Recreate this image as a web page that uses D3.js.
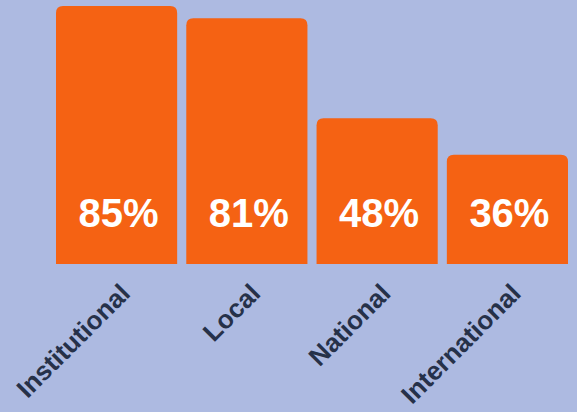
<!DOCTYPE html>
<html>
<head>
<meta charset="utf-8">
<script src="https://cdn.jsdelivr.net/npm/d3@7"></script>
<style>
  html, body { margin: 0; padding: 0; background: #adbae1; }
  svg { display: block; }
</style>
</head>
<body>
<svg id="chart" width="577" height="412"></svg>
<script>
const categories = ["Institutional", "Local", "National", "International"];
const values = [85, 81, 48, 36];
const valueLabels = ["85%", "81%", "48%", "36%"];

const W = 577, H = 412;
const svg = d3.select("#chart");
svg.append("rect").attr("width", W).attr("height", H).attr("fill", "#adbae1");

const x = d3.scaleBand().domain(categories).range([56, 568]).paddingInner(0.07).paddingOuter(0);
const y = d3.scaleLinear().domain([0, d3.max(values)]).range([264, 6]);

const r = 7;
function barPath(x0, y0, w, y1) {
  const rr = Math.min(r, w / 2, (y1 - y0));
  return `M${x0},${y1}V${y0 + rr}Q${x0},${y0} ${x0 + rr},${y0}H${x0 + w - rr}Q${x0 + w},${y0} ${x0 + w},${y0 + rr}V${y1}Z`;
}

const data = categories.map((c, i) => ({ c, v: values[i], label: valueLabels[i] }));

svg.append("g").selectAll("path").data(data).join("path")
  .attr("d", d => barPath(x(d.c), y(d.v), x.bandwidth(), y(0)))
  .attr("fill", "#f56213");

svg.append("g").selectAll("text").data(data).join("text")
  .attr("x", d => x(d.c) + x.bandwidth() / 2 + 2)
  .attr("y", y(0) - 37)
  .attr("text-anchor", "middle")
  .attr("fill", "#ffffff")
  .attr("font-family", "Liberation Sans, Arial, sans-serif")
  .attr("font-weight", "bold")
  .attr("font-size", 40)
  .text(d => d.label);

const xAxis = d3.axisBottom(x).tickSize(0).tickPadding(0);
const gx = svg.append("g").attr("transform", `translate(0,${y(0)})`).call(xAxis);
gx.select(".domain").remove();
gx.selectAll("text")
  .attr("fill", "#263149")
  .attr("font-family", "Liberation Sans, Arial, sans-serif")
  .attr("font-weight", "bold")
  .attr("font-size", 26)
  .attr("text-anchor", "end")
  .attr("dy", null)
  .attr("y", null)
  .attr("transform", "translate(15,31) rotate(-45)");
</script>
</body>
</html>
